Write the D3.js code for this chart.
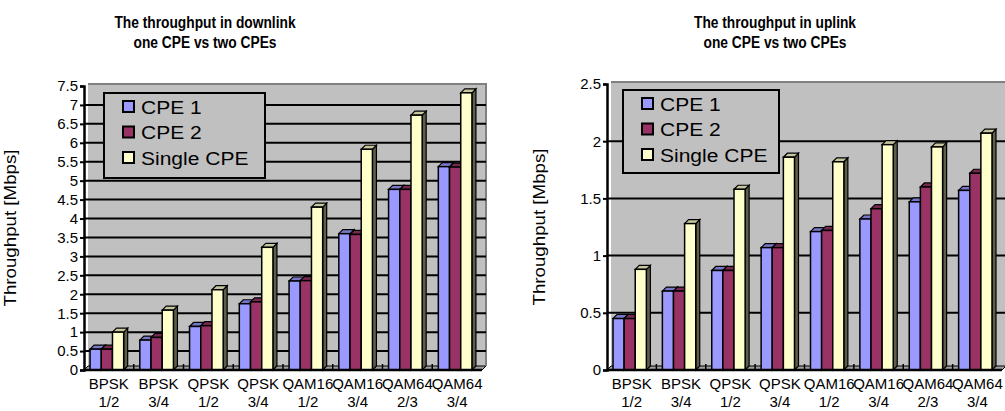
<!DOCTYPE html>
<html>
<head>
<meta charset="utf-8">
<script src="https://cdn.jsdelivr.net/npm/d3@7/dist/d3.min.js"></script>
<style>
  body { margin: 0; background: #fff; }
  svg { font-family: "Liberation Sans", Arial, sans-serif; display: block; }
</style>
</head>
<body>
<div id="chart"></div>
<script>
// categories (two-line labels)
var categories = ["BPSK 1/2", "BPSK 3/4", "QPSK 1/2", "QPSK 3/4", "QAM16 1/2", "QAM16 3/4", "QAM64 2/3", "QAM64 3/4"];
var series = ["CPE 1", "CPE 2", "Single CPE"];

// downlink values [Mbps]
var downCpe1 = [0.55, 0.79, 1.15, 1.75, 2.35, 3.60, 4.77, 5.37];
var downCpe2 = [0.55, 0.86, 1.17, 1.80, 2.36, 3.58, 4.77, 5.36];
var downSingle = [1.00, 1.58, 2.12, 3.24, 4.30, 5.83, 6.73, 7.32];

// uplink values [Mbps]
var upCpe1 = [0.45, 0.69, 0.87, 1.07, 1.21, 1.32, 1.47, 1.57];
var upCpe2 = [0.45, 0.69, 0.87, 1.07, 1.22, 1.41, 1.60, 1.72];
var upSingle = [0.88, 1.28, 1.58, 1.86, 1.82, 1.97, 1.95, 2.07];

// tick labels
var downTicks = [0, 0.5, 1, 1.5, 2, 2.5, 3, 3.5, 4, 4.5, 5, 5.5, 6, 6.5, 7, 7.5];
var upTicks = [0, 0.5, 1, 1.5, 2, 2.5];

var colors = ["#9999FF", "#993366", "#FFFFCC"];

var width = 1005, height = 411;
var depth = 4;

var svg = d3.select("#chart").append("svg")
    .attr("width", width)
    .attr("height", height);

var charts = [
    {
        title: ["The throughput in downlink", "one CPE vs two CPEs"],
        titleX: 205,
        values: [downCpe1, downCpe2, downSingle],
        ticks: downTicks,
        left: 84, right: 482,
        top: 86, bottom: 370,
        yLabelX: 16,
        legend: {x: 104, y: 93, w: 161, h: 85}
    },
    {
        title: ["The throughput in uplink", "one CPE vs two CPEs"],
        titleX: 775,
        values: [upCpe1, upCpe2, upSingle],
        ticks: upTicks,
        left: 607, right: 1002,
        top: 84, bottom: 370,
        yLabelX: 545,
        legend: {x: 623, y: 90, w: 156, h: 83}
    }
];

// widen / narrow text horizontally like the original picture
function stretch(sel, k) {
    sel.each(function() {
        var len = this.getComputedTextLength();
        d3.select(this)
            .attr("textLength", len * k)
            .attr("lengthAdjust", "spacingAndGlyphs");
    });
}

charts.forEach(drawChart);

function drawChart(c) {
    var g = svg.append("g");

    var x = d3.scaleBand()
        .domain(categories)
        .range([c.left, c.right]);

    var xs = d3.scaleBand()
        .domain(series)
        .range([0, x.bandwidth()])
        .paddingOuter(0.72);

    var y = d3.scaleLinear()
        .domain([0, d3.max(c.ticks)])
        .range([c.bottom, c.top]);

    var wallTop = y(d3.max(c.ticks)) - depth + 2;

    // back wall
    g.append("rect")
        .attr("x", c.left + depth)
        .attr("y", wallTop)
        .attr("width", c.right - c.left)
        .attr("height", c.bottom - depth - wallTop)
        .attr("fill", "#C0C0C0");

    // floor
    g.append("path")
        .attr("d", "M" + c.left + "," + c.bottom +
            "L" + c.right + "," + c.bottom +
            "L" + (c.right + depth) + "," + (c.bottom - depth) +
            "L" + (c.left + depth) + "," + (c.bottom - depth) + "Z")
        .attr("fill", "#A0A0A0")
        .attr("stroke", "#000")
        .attr("stroke-width", 1);

    // wall border top and right
    g.append("path")
        .attr("d", "M" + (c.left + depth) + "," + wallTop +
            "H" + (c.right + depth) + "V" + (c.bottom - depth))
        .attr("fill", "none")
        .attr("stroke", "#808080")
        .attr("stroke-width", 2);

    // gridlines
    g.selectAll("line.grid")
        .data(c.ticks.slice(1, -1))
        .enter().append("line")
        .attr("class", "grid")
        .attr("x1", c.left)
        .attr("x2", c.right + depth)
        .attr("y1", function(d) { return y(d); })
        .attr("y2", function(d) { return y(d); })
        .attr("stroke", "#000")
        .attr("stroke-width", 2);

    // small separators on the floor between groups
    g.selectAll("line.sep")
        .data(categories.slice(1))
        .enter().append("line")
        .attr("class", "sep")
        .attr("x1", function(d) { return x(d); })
        .attr("x2", function(d) { return x(d); })
        .attr("y1", c.bottom)
        .attr("y2", c.bottom - 6)
        .attr("stroke", "#000")
        .attr("stroke-width", 1.5);

    // legend box
    var lg = g.append("g");
    lg.append("rect")
        .attr("x", c.legend.x)
        .attr("y", c.legend.y)
        .attr("width", c.legend.w)
        .attr("height", c.legend.h)
        .attr("fill", "#C0C0C0")
        .attr("stroke", "#000")
        .attr("stroke-width", 2);

    // bars (3D look: front, top and side faces)
    series.forEach(function(s, si) {
        var base = d3.color(colors[si]);
        var topCol = base.darker(0.7);
        var sideCol = base.darker(2.8);
        categories.forEach(function(cat, ci) {
            var v = c.values[si][ci];
            var bx = x(cat) + xs(s) - 2;
            var bw = xs.bandwidth();
            var by = y(v);
            var bar = g.append("g");
            bar.append("path")
                .attr("d", "M" + (bx + bw) + "," + c.bottom +
                    "L" + (bx + bw) + "," + by +
                    "L" + (bx + bw + depth) + "," + (by - depth) +
                    "L" + (bx + bw + depth) + "," + (c.bottom - depth) + "Z")
                .attr("fill", sideCol)
                .attr("stroke", "#000")
                .attr("stroke-width", 1.2);
            bar.append("path")
                .attr("d", "M" + bx + "," + by +
                    "L" + (bx + depth) + "," + (by - depth) +
                    "L" + (bx + bw + depth) + "," + (by - depth) +
                    "L" + (bx + bw) + "," + by + "Z")
                .attr("fill", topCol)
                .attr("stroke", "#000")
                .attr("stroke-width", 1.2);
            bar.append("rect")
                .attr("x", bx)
                .attr("y", by)
                .attr("width", bw)
                .attr("height", c.bottom - by)
                .attr("fill", base)
                .attr("stroke", "#000")
                .attr("stroke-width", 1.5);
        });
    });

    // front floor edge
    g.append("line")
        .attr("x1", c.left)
        .attr("x2", c.right)
        .attr("y1", c.bottom)
        .attr("y2", c.bottom)
        .attr("stroke", "#000")
        .attr("stroke-width", 2.5);

    // y axis
    var yAxis = d3.axisLeft(y)
        .tickValues(c.ticks)
        .tickSize(4)
        .tickPadding(2)
        .tickFormat(d3.format(""));

    var ya = g.append("g")
        .attr("transform", "translate(" + c.left + ",0)")
        .call(yAxis);
    ya.attr("font-family", "Liberation Sans, Arial, sans-serif")
        .attr("font-size", 15);
    ya.select(".domain")
        .attr("stroke", "#000")
        .attr("stroke-width", 2.5);
    ya.selectAll(".tick line")
        .attr("stroke-width", 2);
    ya.selectAll(".tick text")
        .attr("fill", "#000");

    // category labels
    var xl = g.selectAll("text.cat")
        .data(categories)
        .enter().append("text")
        .attr("class", "cat")
        .attr("text-anchor", "middle")
        .attr("font-size", 15)
        .attr("fill", "#000");
    xl.append("tspan")
        .attr("x", function(d) { return x(d) + x.bandwidth() / 2; })
        .attr("y", 389)
        .text(function(d) { return d.split(" ")[0]; });
    xl.append("tspan")
        .attr("x", function(d) { return x(d) + x.bandwidth() / 2; })
        .attr("y", 407)
        .text(function(d) { return d.split(" ")[1]; });

    // legend entries
    var le = lg.selectAll("g.item")
        .data(series)
        .enter().append("g")
        .attr("class", "item")
        .attr("transform", function(d, i) {
            return "translate(" + (c.legend.x + 19) + "," + (c.legend.y + 14 + i * 25.5) + ")";
        });
    le.append("rect")
        .attr("x", 0)
        .attr("y", -6)
        .attr("width", 11)
        .attr("height", 11)
        .attr("fill", function(d, i) { return colors[i]; })
        .attr("stroke", "#000")
        .attr("stroke-width", 2);
    var lt = le.append("text")
        .attr("x", 18)
        .attr("y", 6.5)
        .attr("font-size", 17.5)
        .attr("fill", "#000")
        .text(function(d) { return d; });
    stretch(lt, 1.2);

    // title
    var tt = g.selectAll("text.title")
        .data(c.title)
        .enter().append("text")
        .attr("class", "title")
        .attr("x", c.titleX)
        .attr("y", function(d, i) { return 28 + i * 20; })
        .attr("text-anchor", "middle")
        .attr("font-size", 16)
        .attr("font-weight", "bold")
        .attr("fill", "#000")
        .text(function(d) { return d; });
    stretch(tt, 0.86);

    // y label
    var yl = g.append("text")
        .attr("transform", "translate(" + c.yLabelX + "," + ((c.top + c.bottom) / 2) + ") rotate(-90)")
        .attr("text-anchor", "middle")
        .attr("font-size", 17)
        .attr("fill", "#000")
        .text("Throughput [Mbps]");
    stretch(yl, 1.1);
}
</script>
</body>
</html>
